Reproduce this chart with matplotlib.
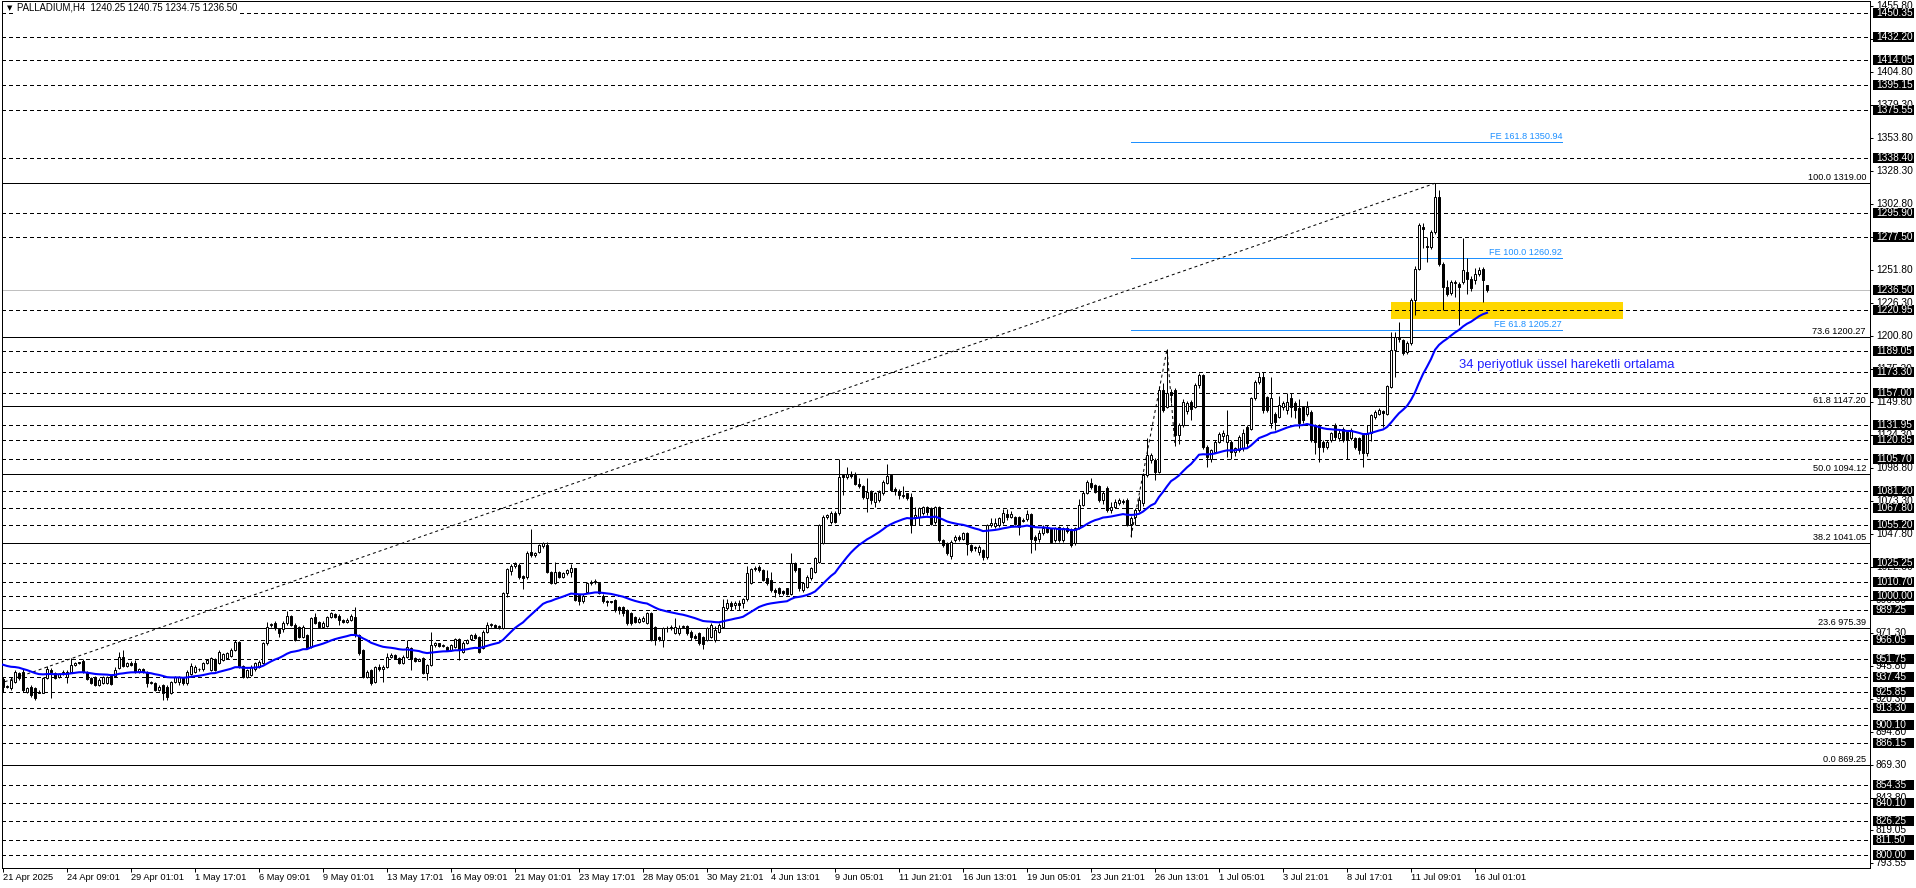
import matplotlib
matplotlib.use("Agg")
import matplotlib.pyplot as plt
from matplotlib.patches import Rectangle
import numpy as np

plt.rcParams['font.family'] = ['Liberation Sans', 'DejaVu Sans']

# candles (open, high, low, close), H4 bars
candles_apr_may = [
    (935.6, 937.7, 926.1, 930.0), (930.0, 931.3, 928.7, 930.3), (928.7, 937.2, 927.4, 935.1), (933.9, 942.9, 932.6, 941.6),
    (940.3, 941.6, 935.1, 936.4), (941.6, 943.4, 926.1, 927.4), (926.1, 929.5, 925.3, 928.7), (930.0, 931.3, 922.3, 923.5),
    (928.7, 930.0, 919.7, 921.0), (925.5, 927.4, 924.8, 926.1), (925.3, 937.2, 924.8, 936.4), (936.4, 945.9, 935.6, 943.4),
    (942.9, 944.2, 921.0, 941.0), (940.3, 941.6, 935.6, 936.4), (937.7, 940.5, 936.9, 939.8), (939.8, 942.9, 939.0, 941.6),
    (937.7, 942.9, 932.6, 941.6), (941.6, 951.9, 940.8, 946.7), (946.7, 949.3, 945.9, 948.5), (948.5, 949.3, 947.5, 948.3),
    (950.1, 951.1, 940.8, 941.6), (941.6, 942.4, 934.8, 935.6), (936.4, 937.2, 931.8, 932.6), (937.2, 938.2, 930.5, 931.3),
    (931.3, 936.4, 930.5, 935.1), (932.6, 938.2, 931.8, 937.2), (932.6, 938.5, 932.0, 937.2), (938.2, 939.0, 931.3, 932.1),
    (938.2, 945.4, 937.2, 942.9), (944.2, 957.0, 943.4, 953.2), (952.7, 958.3, 944.9, 945.9), (945.9, 949.3, 945.4, 948.5),
    (948.5, 950.0, 946.0, 946.7), (948.0, 950.6, 940.8, 941.6), (941.6, 944.2, 940.8, 943.4), (943.4, 944.2, 940.8, 941.6),
    (941.6, 942.4, 930.0, 932.6), (932.6, 934.6, 931.8, 933.9), (932.6, 933.4, 926.6, 927.4), (927.4, 931.3, 926.6, 930.0),
    (931.3, 932.0, 919.7, 924.8), (930.0, 931.0, 919.7, 922.3), (925.3, 934.6, 924.5, 933.9), (933.3, 938.0, 932.6, 937.2),
    (933.9, 938.2, 931.3, 937.2), (936.4, 937.2, 931.3, 932.6), (932.6, 942.9, 931.3, 941.6), (939.8, 948.5, 939.0, 945.9),
    (941.6, 946.5, 940.8, 945.4), (943.4, 944.6, 942.4, 943.6), (943.4, 949.3, 942.4, 948.0), (948.0, 951.5, 947.2, 950.6),
    (942.9, 953.0, 942.0, 951.9), (951.1, 952.0, 942.0, 942.9), (948.0, 958.3, 947.2, 957.0), (950.6, 956.3, 949.8, 955.2),
    (951.9, 956.8, 951.1, 955.7), (954.0, 959.6, 953.2, 958.3), (958.3, 966.0, 957.5, 964.8), (964.8, 965.6, 944.5, 945.4),
    (945.9, 946.7, 936.4, 937.2), (937.2, 943.8, 936.4, 942.9), (939.0, 946.4, 938.2, 945.4), (943.4, 949.3, 942.4, 948.5),
    (945.4, 950.6, 944.5, 949.3), (948.0, 964.5, 947.2, 963.5), (963.5, 980.2, 962.2, 976.3), (977.6, 979.0, 976.3, 977.8),
    (979.4, 981.0, 974.0, 975.0), (974.3, 975.0, 968.6, 971.2), (974.3, 980.5, 972.0, 979.4), (978.9, 988.7, 978.0, 984.6),
    (984.6, 985.4, 976.8, 977.6), (978.0, 979.0, 965.0, 966.0), (976.3, 977.0, 967.5, 968.6), (968.6, 977.5, 967.8, 976.3),
    (969.9, 971.0, 958.8, 959.6), (960.9, 983.8, 960.0, 982.8), (984.1, 987.2, 978.6, 979.4), (980.2, 981.0, 975.5, 976.3),
    (976.3, 980.5, 975.5, 979.4), (977.0, 984.6, 976.3, 983.5), (983.5, 987.5, 982.8, 986.6), (986.1, 987.0, 983.3, 984.1),
    (984.6, 985.8, 978.0, 981.5), (981.5, 982.3, 979.4, 980.2), (980.2, 983.0, 979.4, 981.5), (981.5, 986.0, 980.8, 984.6),
    (984.1, 991.8, 968.6, 969.9), (969.9, 970.7, 954.5, 955.7), (958.3, 959.0, 936.4, 937.7), (937.7, 942.9, 936.4, 941.6),
    (942.9, 943.8, 931.3, 932.6), (933.9, 946.0, 933.0, 944.9), (944.9, 947.2, 942.4, 943.4), (943.4, 946.4, 933.9, 945.4),
    (945.4, 956.3, 944.5, 953.2), (953.2, 955.7, 951.9, 954.5), (954.5, 955.2, 951.1, 951.9), (951.9, 952.7, 947.5, 948.5),
    (948.5, 954.5, 947.2, 953.2), (953.2, 966.0, 952.4, 960.9), (959.6, 960.3, 943.0, 951.6), (951.9, 952.7, 949.3, 950.1),
    (950.1, 952.5, 949.5, 951.6), (951.9, 952.7, 939.5, 940.3), (940.3, 947.5, 935.0, 946.7), (946.7, 972.5, 945.9, 962.2),
    (962.2, 964.5, 961.0, 963.5), (963.5, 964.0, 960.5, 961.5), (961.5, 963.0, 960.5, 962.0), (960.9, 961.7, 957.5, 958.3),
    (958.3, 963.0, 957.5, 962.2), (960.9, 967.5, 960.0, 966.6), (966.6, 967.5, 951.0, 958.3), (957.0, 965.0, 956.3, 964.0),
    (964.0, 967.0, 963.0, 966.0), (966.6, 971.0, 965.8, 969.9), (969.9, 971.5, 967.0, 968.0), (968.6, 969.5, 956.3, 957.0),
]

candles_may_jun = [
    (959.6, 973.7, 958.8, 972.5), (972.5, 980.2, 971.7, 977.6), (977.6, 979.5, 976.3, 977.8), (977.6, 978.5, 975.5, 976.3),
    (976.3, 977.6, 974.8, 976.5), (975.0, 1003.0, 974.3, 1002.1), (1002.1, 1022.0, 999.5, 1020.6), (1019.1, 1024.5, 1016.0, 1023.0),
    (1023.0, 1026.5, 1021.5, 1024.5), (1024.0, 1025.5, 1013.0, 1014.9), (1015.5, 1016.5, 1005.2, 1013.7), (1014.9, 1034.5, 1013.5, 1033.5),
    (1034.3, 1051.5, 1030.0, 1031.7), (1031.7, 1034.0, 1030.4, 1033.0), (1034.3, 1040.5, 1033.0, 1039.4), (1038.6, 1041.5, 1037.5, 1040.7),
    (1039.4, 1041.5, 1017.5, 1018.8), (1018.8, 1019.5, 1009.0, 1009.8), (1009.8, 1026.5, 1009.0, 1018.8), (1018.8, 1019.5, 1014.0, 1015.0),
    (1015.0, 1019.0, 1014.0, 1017.5), (1017.5, 1021.0, 1016.5, 1019.8), (1019.0, 1025.0, 1015.0, 1021.5), (1021.5, 1022.0, 996.0, 997.0),
    (1001.0, 1002.0, 993.0, 996.5), (996.5, 1001.5, 995.0, 1000.0), (1003.4, 1011.0, 1002.5, 1009.8), (1009.8, 1012.5, 1008.5, 1011.0),
    (1010.7, 1013.0, 1009.5, 1011.5), (1010.0, 1011.0, 1001.5, 1002.5), (1000.0, 1001.5, 994.5, 996.5), (995.5, 997.0, 992.0, 995.8),
    (995.8, 996.5, 994.5, 995.5), (996.8, 997.5, 988.0, 989.2), (991.8, 992.5, 986.0, 989.2), (991.8, 992.5, 985.0, 987.2),
    (989.2, 990.0, 978.0, 978.9), (986.6, 987.5, 978.0, 978.9), (984.0, 985.0, 979.0, 980.2), (980.2, 983.5, 979.0, 982.0),
    (981.0, 984.5, 980.0, 982.8), (979.4, 987.5, 978.5, 986.6), (986.6, 987.5, 965.0, 966.0), (976.3, 977.0, 962.0, 966.0),
    (968.6, 969.5, 965.5, 966.6), (966.0, 976.0, 961.0, 975.0), (975.0, 977.0, 972.0, 975.3), (975.0, 977.5, 974.0, 976.5),
    (971.2, 982.8, 970.5, 976.3), (971.2, 978.0, 970.0, 975.0), (976.5, 978.0, 975.5, 976.8), (976.8, 977.5, 970.0, 971.2),
    (972.5, 973.5, 966.0, 968.6), (969.0, 971.0, 966.5, 968.0), (971.2, 972.0, 962.0, 963.5), (968.6, 969.5, 958.8, 963.0),
    (966.0, 976.0, 965.0, 975.0), (968.6, 979.0, 967.5, 977.6), (966.0, 977.0, 964.5, 973.7), (972.5, 979.5, 971.5, 977.6),
    (976.3, 998.0, 975.5, 991.8), (990.5, 997.5, 989.0, 994.4), (994.4, 996.0, 989.0, 992.0), (993.5, 996.5, 990.0, 995.0),
    (995.0, 997.0, 989.5, 993.0), (994.4, 998.5, 991.0, 997.5), (997.5, 1023.0, 996.5, 1017.5), (1010.3, 1022.0, 1009.0, 1020.6),
    (1020.6, 1023.5, 1019.5, 1021.9), (1022.7, 1024.0, 1019.0, 1020.1), (1020.1, 1021.0, 1011.5, 1012.4), (1013.7, 1020.0, 1008.5, 1009.8),
    (1012.4, 1019.0, 1003.5, 1004.7), (1005.0, 1006.0, 999.0, 1003.0), (1005.9, 1007.0, 1001.0, 1002.1), (1004.0, 1005.0, 1001.0, 1002.5),
    (1005.9, 1006.5, 1000.5, 1001.6), (1001.6, 1033.5, 1000.5, 1025.2), (1025.7, 1026.5, 1019.0, 1020.1), (1021.4, 1022.0, 1004.0, 1006.0),
    (1004.7, 1011.0, 1003.0, 1009.8), (1007.2, 1016.0, 1006.0, 1014.9), (1013.7, 1022.5, 1012.5, 1021.4), (1018.8, 1030.5, 1018.0, 1029.1),
    (1026.5, 1056.0, 1025.5, 1054.8), (1041.0, 1062.5, 1040.0, 1061.3), (1061.3, 1063.5, 1059.5, 1062.5), (1057.4, 1065.5, 1056.0, 1064.4),
    (1064.4, 1066.0, 1056.5, 1057.4), (1063.9, 1106.3, 1063.0, 1092.2), (1093.5, 1094.5, 1078.0, 1092.2), (1092.2, 1099.9, 1090.5, 1094.4),
    (1094.4, 1097.0, 1091.5, 1092.8), (1093.5, 1096.0, 1086.0, 1087.0), (1087.0, 1091.0, 1083.5, 1085.0), (1085.0, 1086.0, 1075.0, 1076.2),
    (1075.5, 1091.0, 1065.2, 1080.6), (1080.6, 1082.0, 1071.5, 1074.2), (1073.0, 1080.5, 1069.0, 1079.3), (1074.2, 1082.0, 1073.0, 1080.6),
    (1079.3, 1089.5, 1078.0, 1088.3), (1087.6, 1102.0, 1086.5, 1092.8), (1093.5, 1094.5, 1081.0, 1081.9), (1083.0, 1084.0, 1078.0, 1081.4),
    (1081.4, 1082.5, 1075.0, 1078.0), (1077.0, 1085.0, 1076.0, 1078.5), (1079.3, 1080.0, 1074.5, 1075.5), (1076.8, 1080.0, 1048.5, 1054.8),
    (1061.0, 1069.0, 1054.8, 1062.8), (1061.3, 1068.5, 1055.0, 1067.7), (1064.4, 1070.0, 1063.0, 1068.5), (1068.5, 1069.5, 1063.0, 1065.0),
    (1067.7, 1069.0, 1055.0, 1056.1), (1057.0, 1070.0, 1056.0, 1069.0), (1069.0, 1070.0, 1042.0, 1043.3), (1043.3, 1044.5, 1038.0, 1039.4),
    (1040.7, 1041.5, 1032.0, 1033.0),
]

candles_jun_jul = [
    (1030.9, 1043.0, 1028.5, 1042.0), (1043.3, 1047.0, 1042.0, 1045.8), (1045.8, 1047.0, 1042.5, 1044.0), (1044.5, 1049.5, 1043.0, 1048.4),
    (1048.4, 1049.5, 1032.0, 1040.2), (1039.4, 1040.5, 1034.0, 1035.6), (1038.0, 1039.0, 1035.0, 1036.8), (1034.0, 1039.5, 1032.0, 1038.1),
    (1035.5, 1036.5, 1028.0, 1030.4), (1029.9, 1056.0, 1028.5, 1054.8), (1055.0, 1060.0, 1053.5, 1056.2), (1054.0, 1060.0, 1053.0, 1056.5),
    (1054.8, 1061.0, 1053.5, 1060.0), (1057.4, 1067.0, 1056.0, 1064.4), (1063.8, 1067.0, 1059.0, 1061.3), (1061.3, 1066.0, 1060.0, 1063.8),
    (1060.8, 1062.0, 1055.0, 1056.1), (1060.8, 1062.0, 1047.0, 1053.6), (1058.0, 1060.5, 1057.0, 1059.0), (1059.2, 1066.9, 1058.0, 1063.8),
    (1063.3, 1064.5, 1033.5, 1043.8), (1045.8, 1047.0, 1036.0, 1043.3), (1043.8, 1051.0, 1042.0, 1048.9), (1049.0, 1055.0, 1047.5, 1053.0),
    (1053.6, 1055.0, 1048.5, 1049.7), (1052.0, 1053.0, 1041.0, 1042.0), (1043.3, 1053.5, 1042.0, 1052.3), (1053.6, 1054.5, 1042.0, 1043.3),
    (1043.3, 1053.5, 1042.0, 1052.3), (1052.3, 1054.0, 1049.0, 1050.0), (1051.5, 1052.5, 1038.0, 1039.4), (1040.7, 1053.5, 1039.5, 1052.3),
    (1052.3, 1075.0, 1051.5, 1070.3), (1070.3, 1081.0, 1069.5, 1079.8), (1079.8, 1089.5, 1079.0, 1088.3), (1087.5, 1091.0, 1083.0, 1084.5),
    (1085.7, 1087.0, 1079.5, 1080.6), (1084.9, 1086.0, 1073.0, 1074.2), (1074.2, 1081.0, 1071.0, 1079.8), (1083.2, 1085.0, 1065.0, 1066.4),
    (1066.4, 1073.0, 1064.5, 1069.0), (1068.9, 1075.0, 1068.0, 1072.9), (1071.6, 1075.5, 1070.5, 1074.0), (1073.5, 1075.0, 1071.0, 1072.5),
    (1074.2, 1076.0, 1054.0, 1054.8), (1056.1, 1062.0, 1045.9, 1060.0), (1061.3, 1068.0, 1055.0, 1066.4), (1066.4, 1077.0, 1065.0, 1074.2),
    (1071.6, 1095.0, 1070.0, 1093.5), (1093.5, 1122.0, 1092.0, 1108.9), (1105.0, 1110.5, 1103.0, 1108.9), (1105.0, 1106.5, 1090.0, 1096.1),
    (1096.1, 1162.0, 1095.0, 1159.2), (1159.2, 1165.0, 1142.5, 1143.7), (1146.3, 1190.8, 1145.0, 1156.6), (1157.9, 1160.0, 1149.0, 1155.3),
    (1159.2, 1160.5, 1116.2, 1124.4), (1124.4, 1133.5, 1117.5, 1132.1), (1132.1, 1152.0, 1131.0, 1150.1), (1143.0, 1151.0, 1141.0, 1149.4),
    (1150.1, 1151.5, 1136.0, 1144.2), (1146.3, 1164.5, 1145.0, 1163.0), (1163.0, 1172.5, 1161.0, 1170.7), (1170.7, 1172.0, 1114.0, 1115.4),
    (1115.4, 1116.5, 1100.0, 1107.7), (1105.6, 1114.0, 1104.0, 1112.8), (1111.5, 1120.5, 1110.5, 1119.2), (1119.2, 1126.5, 1118.0, 1125.2),
    (1124.0, 1128.0, 1119.5, 1125.7), (1119.2, 1143.7, 1107.7, 1124.4), (1119.2, 1120.5, 1106.0, 1111.5), (1111.5, 1115.5, 1108.5, 1114.1),
    (1112.8, 1124.5, 1111.5, 1123.1), (1114.1, 1129.0, 1112.5, 1126.2), (1130.8, 1132.0, 1115.0, 1118.0), (1129.5, 1154.0, 1128.0, 1152.7),
    (1152.7, 1167.0, 1151.5, 1165.6), (1165.1, 1173.3, 1164.0, 1169.4), (1169.0, 1173.3, 1141.5, 1143.7), (1154.0, 1155.0, 1142.0, 1143.7),
    (1133.4, 1169.0, 1130.0, 1152.7), (1141.1, 1142.0, 1128.0, 1134.7), (1138.5, 1155.0, 1137.5, 1147.6), (1145.8, 1150.5, 1144.0, 1148.9),
    (1143.7, 1157.0, 1141.0, 1150.1), (1152.7, 1157.0, 1138.5, 1146.3), (1148.9, 1150.5, 1138.0, 1143.7), (1145.0, 1152.0, 1130.0, 1133.4),
    (1146.3, 1147.0, 1134.0, 1136.0), (1141.1, 1151.0, 1139.0, 1146.3), (1142.4, 1143.5, 1119.0, 1120.5), (1132.1, 1133.0, 1110.0, 1119.2),
    (1132.1, 1133.0, 1104.0, 1115.4), (1119.2, 1120.5, 1111.0, 1115.4), (1115.4, 1121.0, 1114.0, 1119.2), (1120.5, 1127.0, 1119.0, 1125.7),
    (1132.1, 1133.5, 1121.0, 1123.1), (1121.8, 1128.0, 1120.0, 1126.2), (1129.5, 1131.0, 1119.0, 1120.5), (1126.9, 1128.5, 1105.6, 1120.5),
    (1121.8, 1130.0, 1120.5, 1128.2), (1121.8, 1123.0, 1114.0, 1115.4), (1121.8, 1123.0, 1110.0, 1112.8), (1124.4, 1125.5, 1100.0, 1110.2),
    (1110.2, 1132.0, 1108.0, 1125.7), (1125.7, 1140.5, 1120.0, 1139.8), (1138.5, 1143.5, 1137.0, 1142.4), (1141.1, 1145.0, 1140.0, 1143.7),
    (1143.0, 1144.0, 1131.0, 1141.5), (1141.1, 1163.0, 1140.0, 1162.2), (1161.7, 1204.0, 1160.5, 1190.0), (1190.0, 1204.0, 1169.4, 1200.3),
    (1198.7, 1211.9, 1196.5, 1199.3), (1197.8, 1199.0, 1186.0, 1187.5), (1188.7, 1197.0, 1187.0, 1195.6),
]

candles_jul = [
    (1195.6, 1230.0, 1194.0, 1228.7), (1228.7, 1255.0, 1217.0, 1253.1), (1253.1, 1288.0, 1252.0, 1286.6), (1285.3, 1288.0, 1269.0, 1284.0),
    (1270.0, 1277.6, 1258.3, 1269.9), (1269.9, 1283.0, 1268.0, 1281.4), (1281.4, 1319.0, 1280.0, 1308.5), (1308.5, 1314.0, 1255.0, 1257.0),
    (1257.0, 1258.0, 1221.0, 1239.0), (1239.0, 1244.0, 1232.0, 1233.8), (1234.3, 1244.0, 1233.0, 1242.8), (1242.0, 1244.0, 1231.0, 1242.5),
    (1241.5, 1243.0, 1209.3, 1239.0), (1242.8, 1277.1, 1241.0, 1251.8), (1250.5, 1260.9, 1233.3, 1245.4), (1245.4, 1247.0, 1236.0, 1237.7),
    (1244.1, 1253.5, 1241.5, 1248.7), (1249.2, 1254.4, 1247.5, 1251.8), (1253.1, 1254.5, 1227.4, 1244.1), (1240.25, 1240.75, 1234.75, 1236.50),
]

dashed_levels = [1450.35, 1432.20, 1414.05, 1395.15, 1375.55, 1338.40, 1295.90, 1277.50, 1220.95,
                 1189.05, 1173.30, 1157.00, 1131.95, 1120.85, 1105.70, 1081.20, 1067.80, 1055.20,
                 1025.25, 1010.70, 1000.00, 989.25, 966.05, 951.75, 937.45, 925.85, 913.30, 900.10,
                 886.15, 854.35, 840.10, 826.25, 811.50, 800.00]
bid_price = 1236.50
axis_ticks = [1455.80, 1430.30, 1404.80, 1379.30, 1353.80, 1328.30, 1302.80, 1277.30, 1251.80,
              1226.30, 1200.80, 1175.30, 1149.80, 1124.30, 1098.80, 1073.30, 1047.80, 1022.30,
              996.80, 971.30, 945.80, 920.30, 894.80, 869.30, 843.80, 819.05, 793.55]
fib_pcts = ["100.0", "73.6", "61.8", "50.0", "38.2", "23.6", "0.0"]
fib_prices = [1319.00, 1200.27, 1147.20, 1094.12, 1041.05, 975.39, 869.25]
fe_pcts = ["161.8", "100.0", "61.8"]
fe_prices = [1350.94, 1260.92, 1205.27]
date_labels = ["21 Apr 2025", "24 Apr 09:01", "29 Apr 01:01", "1 May 17:01", "6 May 09:01",
               "9 May 01:01", "13 May 17:01", "16 May 09:01", "21 May 01:01", "23 May 17:01",
               "28 May 05:01", "30 May 21:01", "4 Jun 13:01", "9 Jun 05:01", "11 Jun 21:01",
               "16 Jun 13:01", "19 Jun 05:01", "23 Jun 21:01", "26 Jun 13:01", "1 Jul 05:01",
               "3 Jul 21:01", "8 Jul 17:01", "11 Jul 09:01", "16 Jul 01:01"]
title = "PALLADIUM,H4  1240.25 1240.75 1234.75 1236.50"
ema_note = "34 periyotluk üssel hareketli ortalama"
ema_period = 34
ema_seed = 948.0

#%% set up
W, H = 1916, 888
fig = plt.figure(figsize=(W / 100, H / 100), dpi=100)
fig.patch.set_facecolor("white")

px = 0.72  # one pixel in points
y_top, y_bot = 1, 868
ax = fig.add_axes([2 / W, (H - y_bot) / H, 1868 / W, (y_bot - y_top) / H])
ax.set_xlim(-0.25, 466.75)
ylo, yhi = 789.9, 1459.85
ax.set_ylim(ylo, yhi)
ax.set_xticks([])
ax.set_yticks([])
for s in ax.spines.values():
    s.set_linewidth(px)
    s.set_color("black")
per_px = (yhi - ylo) / (y_bot - y_top)  # price per pixel

candles = candles_apr_may + candles_may_jun + candles_jun_jul + candles_jul
o, h, l, c = (np.array(v) for v in zip(*candles))
xs = np.arange(len(c))

#%% horizontal levels
ax.hlines(dashed_levels, -0.25, 466.75, colors="black", linewidth=px,
          linestyles=(0, (4, 3)), antialiased=False, zorder=2)
ax.hlines(fib_prices, -0.25, 466.75, colors="black", linewidth=px, antialiased=False, zorder=2)
ax.axhline(bid_price, color="#c0c0c0", linewidth=px, antialiased=False, zorder=1.5)

for pct, p in zip(fib_pcts, fib_prices):
    ax.text(465.75, p + per_px, f"{pct} {p:.2f}", ha="right", va="bottom", fontsize=6.6, zorder=5)

# fibo expansion
fe_x0, fe_x1 = 282, 389.75
ax.hlines(fe_prices, fe_x0, fe_x1, colors="#1e90ff", linewidth=px, antialiased=False, zorder=2)
for pct, p in zip(fe_pcts, fe_prices):
    ax.text(fe_x1, p + per_px, f"FE {pct} {p:.2f}", ha="right", va="bottom",
            fontsize=6.6, color="#1e90ff", zorder=5)
ax.plot([282, 291, 293], [l[282], h[291], l[293]], color="black", linewidth=px,
        linestyle=(0, (3, 3)), zorder=2.5)

# fibo retracement trend line
ax.plot([-59.5, 358], [fib_prices[-1], fib_prices[0]], color="black", linewidth=px,
        linestyle=(0, (3, 3)), zorder=2.5)

# support zone
ax.add_patch(Rectangle((347, 1214.0), 58, 13.1, facecolor="#ffd700", edgecolor="none", zorder=1))

#%% candles
ax.vlines(xs, l, h, colors="black", linewidth=px, zorder=3)
up = c >= o
body = np.maximum(np.abs(c - o), 0.6)
bottom = np.minimum(o, c)
ax.bar(xs[up], body[up], bottom=bottom[up], width=0.5, facecolor="white",
       edgecolor="black", linewidth=px, zorder=3.1)
ax.bar(xs[~up], body[~up], bottom=bottom[~up], width=0.5, facecolor="black",
       edgecolor="black", linewidth=px, zorder=3.1)

# 34 EMA
alpha = 2 / (ema_period + 1)
ema = []
prev = ema_seed
for v in c:
    prev = prev + alpha * (v - prev)
    ema.append(prev)
ax.plot(xs, ema, color="#0000ff", linewidth=1.5, zorder=4)
ax.text(364, 1178.6, ema_note, ha="left", va="center", fontsize=9.4, color="#2020ff", zorder=5)

#%% price axis
axr = fig.add_axes([1870 / W, (H - y_bot) / H, 46 / W, (y_bot - y_top) / H])
axr.set_xlim(0, 46)
axr.set_ylim(ylo, yhi)
axr.axis("off")
axr.hlines(axis_ticks, 0, 3, colors="black", linewidth=px)
for p in axis_ticks:
    axr.text(6, p, f"{p:.2f}", ha="left", va="center", fontsize=7.3, clip_on=False, zorder=2)
for p in dashed_levels + [bid_price]:
    axr.add_patch(Rectangle((2.5, p - 5 * per_px), 41, 10 * per_px, facecolor="black",
                            edgecolor="none", clip_on=False, zorder=3))
    axr.text(6, p, f"{p:.2f}", ha="left", va="center", fontsize=7.3, color="white",
             clip_on=False, zorder=4)

#%% time axis
axb = fig.add_axes([2 / W, 0, 1868 / W, (H - y_bot) / H])
axb.set_xlim(-0.25, 466.75)
axb.set_ylim(H - y_bot, 0)
axb.axis("off")
tick_bars = [16 * k for k in range(len(date_labels))]
axb.vlines(tick_bars, 0, 4, colors="black", linewidth=px)
for b, s in zip(tick_bars, date_labels):
    axb.text(b, 9, s, ha="left", va="center", fontsize=6.7, clip_on=False)

#%% title
fig.text(7 / W, 1 - 8 / H, "\u25bc", fontsize=5, va="center", ha="left", family="DejaVu Sans")
fig.text(17 / W, 1 - 8 / H, title, fontsize=6.9, va="center", ha="left",
         bbox=dict(facecolor="white", edgecolor="none", pad=0.5), zorder=10)

fig.savefig("out.png", dpi=100)
